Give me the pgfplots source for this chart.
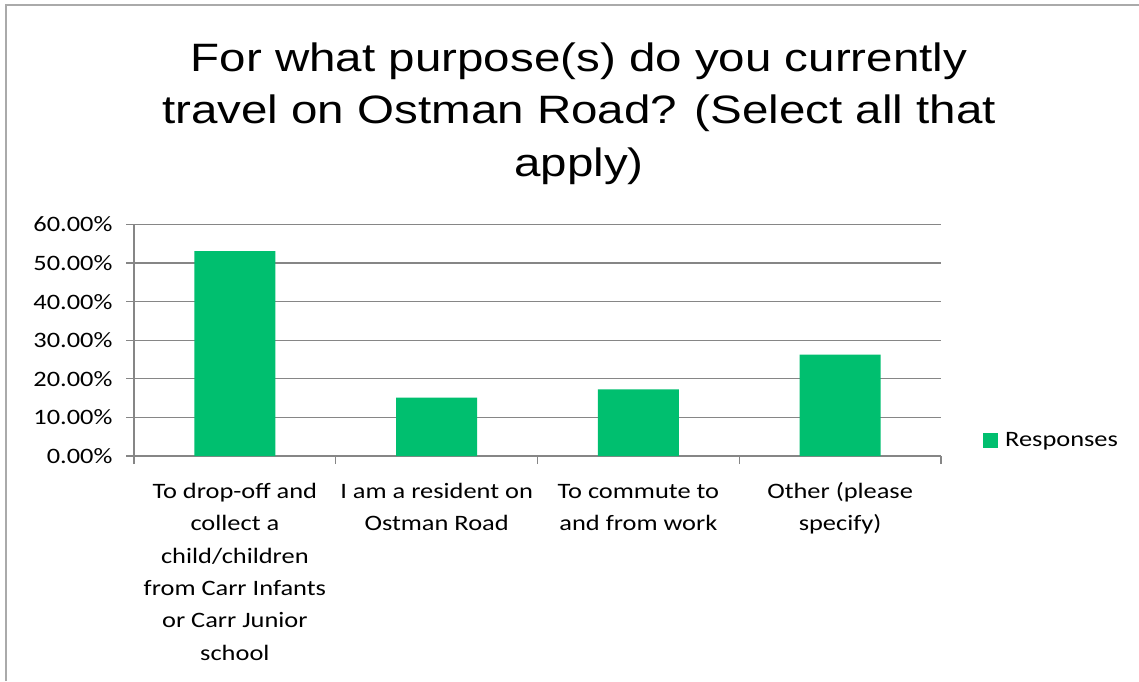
\documentclass[border=0pt]{standalone}
\usepackage{pgfplots}
\pgfplotsset{compat=1.18}
\usepackage{fontspec}
\setmainfont{Carlito}[FakeStretch=1.2]
\newfontfamily\titlefont{Liberation Sans}[FakeStretch=1.2]
\definecolor{barg}{HTML}{00BF6F}
\definecolor{gridg}{HTML}{868686}
\begin{document}
\begin{tikzpicture}[x=1pt,y=1pt]
\path[use as bounding box] (0,0) rectangle (1139,681);
\draw[gridg!70, line width=1.5pt] (6,0) -- (6,676) -- (1139,676);
\node[font=\titlefont\fontsize{39.6}{52}\selectfont, anchor=base, inner sep=0pt] at (579,609.3) {For what purpose(s) do you currently};
\node[font=\titlefont\fontsize{39.6}{52}\selectfont, anchor=base, inner sep=0pt] at (579,557) {travel on Ostman Road? (Select all that};
\node[font=\titlefont\fontsize{39.6}{52}\selectfont, anchor=base, inner sep=0pt] at (579,504.3) {apply)};
\begin{axis}[
  at={(134pt,225pt)}, anchor=south west, scale only axis,
  width=807pt, height=231.5pt,
  xmin=-0.5, xmax=3.5, ymin=0, ymax=60,
  axis x line*=bottom, axis y line*=left,
  axis line style={gridg, line width=1.3pt, -},
  xtick={-0.5,0.5,1.5,2.5,3.5}, xticklabels={},
  ytick={0,10,...,60},
  ymajorgrids, major grid style={gridg, line width=1.3pt},
  tick align=outside, major tick length=8pt,
  tick style={gridg, line width=1.3pt},
  /pgf/number format/assume math mode=true,
  yticklabel={\pgfmathprintnumber[fixed,fixed zerofill,precision=2]{\tick}\%},
  yticklabel style={font=\fontsize{22}{26}\selectfont, xshift=-10pt},
  extra x ticks={0,1,2,3},
  extra x tick labels={{\strut To drop-off and\\collect a\\child/children\\from Carr Infants\\or Carr Junior\\school},{\strut I am a resident on\\Ostman Road},{\strut To commute to\\and from work},{\strut Other (please\\specify)}},
  extra x tick style={major tick length=0pt, xticklabel style={align=center, font=\fontsize{22}{32.4}\selectfont, yshift=-16pt}},
  legend style={at={(1.052,0.069)}, anchor=west, draw=none, inner sep=0pt, font=\fontsize{22}{26}\selectfont},
  legend image code/.code={\fill[barg] (0pt,-7.5pt) rectangle (15pt,7.5pt); \path (20pt,0pt);},
]
\addplot[ybar, fill=barg, draw=none, bar width=81pt, bar shift=0pt] coordinates {(0,53.1) (1,15.15) (2,17.25) (3,26.3)};
\addlegendentry{Responses}
\end{axis}
\end{tikzpicture}
\end{document}
